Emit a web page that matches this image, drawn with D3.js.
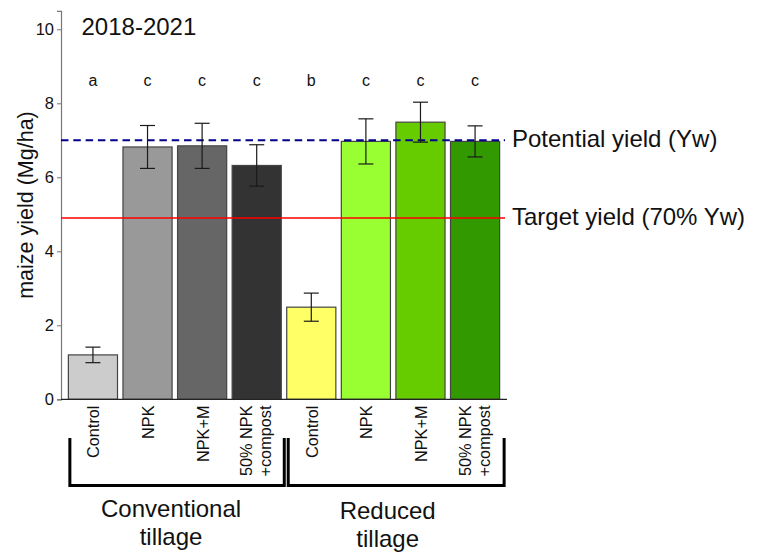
<!DOCTYPE html>
<html>
<head>
<meta charset="utf-8">
<script src="https://cdn.jsdelivr.net/npm/d3@7"></script>
<style>
  html, body { margin: 0; padding: 0; background: #ffffff; }
  svg { display: block; }
  text { font-family: "Liberation Sans", Arial, sans-serif; fill: #111; }
</style>
</head>
<body>
<svg id="chart" width="764" height="552"></svg>
<script>
// Treatments (tillage system x fertiliser), in plotting order
const categories = ["CT-Control", "CT-NPK", "CT-NPK+M", "CT-50NPK+compost",
                    "RT-Control", "RT-NPK", "RT-NPK+M", "RT-50NPK+compost"];
const tickLabels = [["Control"], ["NPK"], ["NPK+M"], ["50% NPK", "+compost"],
                    ["Control"], ["NPK"], ["NPK+M"], ["50% NPK", "+compost"]];
const groups = [
  { name: ["Conventional", "tillage"], first: "CT-Control", last: "CT-50NPK+compost" },
  { name: ["Reduced", "tillage"],      first: "RT-Control", last: "RT-50NPK+compost" }
];
// Mean maize yield (Mg/ha) and standard error
const yieldMean = [1.20, 6.82, 6.85, 6.32, 2.49, 6.97, 7.49, 6.97];
const yieldErr  = [0.21, 0.58, 0.61, 0.56, 0.38, 0.61, 0.54, 0.42];
// Significance letters
const sigLetters = ["a", "c", "c", "c", "b", "c", "c", "c"];
// Reference yields
const potentialYield = 7.0;
const targetYield = 4.9;
const yTicks = [0, 2, 4, 6, 8, 10];
const palette = ["#cccccc", "#999999", "#666666", "#333333",
                 "#ffff66", "#99ff33", "#66cc00", "#339900"];

const svg = d3.select("#chart");

const x = d3.scaleBand()
  .domain(categories)
  .range([61, 507])
  .paddingInner(0.1)
  .paddingOuter(0.135);

const y = d3.scaleLinear()
  .domain([0, 10.5])
  .range([399.3, 10.8]);

const fill = d3.scaleOrdinal().domain(categories).range(palette);

const data = categories.map((c, i) => ({
  key: c, mean: yieldMean[i], err: yieldErr[i], letter: sigLetters[i], label: tickLabels[i]
}));

// Y axis
const yAxis = svg.append("g")
  .attr("transform", `translate(${x.range()[0]},0)`)
  .call(d3.axisLeft(y).tickValues(yTicks).tickSize(4).tickPadding(3).tickFormat(d3.format("d")));
yAxis.select(".domain").attr("stroke", "#777").attr("stroke-width", 1.2);
yAxis.selectAll(".tick line").attr("stroke", "#777");
yAxis.selectAll(".tick text")
  .style("font-family", "'Liberation Sans', Arial, sans-serif")
  .style("font-size", "16.5px").attr("fill", "#1a1a1a");

svg.append("text")
  .attr("transform", `translate(32.5,${(y(0) + y(10.5)) / 2}) rotate(-90)`)
  .attr("text-anchor", "middle")
  .style("font-size", "21.5px")
  .text("maize yield (Mg/ha)");

// Bars
svg.append("g").selectAll("rect")
  .data(data)
  .join("rect")
  .attr("x", d => x(d.key))
  .attr("y", d => y(d.mean))
  .attr("width", x.bandwidth())
  .attr("height", d => y(0) - y(d.mean))
  .attr("fill", d => fill(d.key))
  .attr("stroke", "#444")
  .attr("stroke-width", 1.2);

// X axis line
svg.append("line")
  .attr("x1", x.range()[0]).attr("x2", x.range()[1])
  .attr("y1", y(0)).attr("y2", y(0))
  .attr("stroke", "#222").attr("stroke-width", 1.2);

// Reference lines
const lineEnd = x.range()[1] - 2;
svg.append("line")
  .attr("x1", x.range()[0]).attr("x2", lineEnd)
  .attr("y1", y(targetYield)).attr("y2", y(targetYield))
  .attr("stroke", "#ff0000").attr("stroke-width", 1.5);
svg.append("line")
  .attr("x1", x.range()[0]).attr("x2", lineEnd)
  .attr("y1", y(potentialYield)).attr("y2", y(potentialYield))
  .attr("stroke", "#00008b").attr("stroke-width", 2)
  .attr("stroke-dasharray", "7.5,4.8");

svg.append("text")
  .attr("x", 512).attr("y", y(potentialYield) + 7)
  .style("font-size", "24px")
  .text("Potential yield (Yw)");
svg.append("text")
  .attr("x", 512).attr("y", y(targetYield) + 7)
  .style("font-size", "24px")
  .text("Target yield (70% Yw)");

// Error bars
const capHalf = 7.5;
const eb = svg.append("g").attr("stroke", "#1a1a1a").attr("stroke-width", 1.2);
data.forEach(d => {
  const cx = x(d.key) + x.bandwidth() / 2;
  const yt = y(d.mean + d.err), yb = y(d.mean - d.err);
  eb.append("line").attr("x1", cx).attr("x2", cx).attr("y1", yt).attr("y2", yb);
  eb.append("line").attr("x1", cx - capHalf).attr("x2", cx + capHalf).attr("y1", yt).attr("y2", yt);
  eb.append("line").attr("x1", cx - capHalf).attr("x2", cx + capHalf).attr("y1", yb).attr("y2", yb);
});

// Significance letters
svg.append("g").selectAll("text")
  .data(data)
  .join("text")
  .attr("x", d => x(d.key) + x.bandwidth() / 2)
  .attr("y", 86)
  .attr("text-anchor", "middle")
  .style("font-size", "16px")
  .text(d => d.letter);

// Rotated treatment labels
const tl = svg.append("g").selectAll("g")
  .data(data)
  .join("g")
  .attr("transform", d => `translate(${x(d.key) + x.bandwidth() / 2},405.5)`);
tl.each(function (d) {
  const g = d3.select(this);
  const offs = d.label.length === 1 ? [6.5] : [-4.5, 14.5];
  d.label.forEach((line, i) => {
    g.append("text")
      .attr("transform", `translate(${offs[i]},0) rotate(-90)`)
      .attr("text-anchor", "end")
      .style("font-size", "16.3px")
      .attr("fill", "#1a1a1a")
      .text(line);
  });
});

// Group brackets and labels
const bracketTop = 438, bracketBottom = 485.5;
groups.forEach((g, gi) => {
  const x0 = x(g.first) + 1.5;
  const x1 = x(g.last) + x.bandwidth() + (gi === 0 ? 3 : 4.5);
  svg.append("path")
    .attr("d", `M${x0},${bracketTop}V${bracketBottom}H${x1}V${bracketTop}`)
    .attr("fill", "none").attr("stroke", "#000").attr("stroke-width", 3);
  const cx = (x0 + x1) / 2 - (gi === 0 ? 6 : 8.5);
  const base = gi === 0 ? 517 : 519;
  g.name.forEach((line, i) => {
    svg.append("text")
      .attr("x", cx).attr("y", base + i * 27.5)
      .attr("text-anchor", "middle")
      .style("font-size", "24px")
      .text(line);
  });
});

// Period title
svg.append("text")
  .attr("x", 81.5).attr("y", 35)
  .style("font-size", "24px")
  .text("2018-2021");
</script>
</body>
</html>
